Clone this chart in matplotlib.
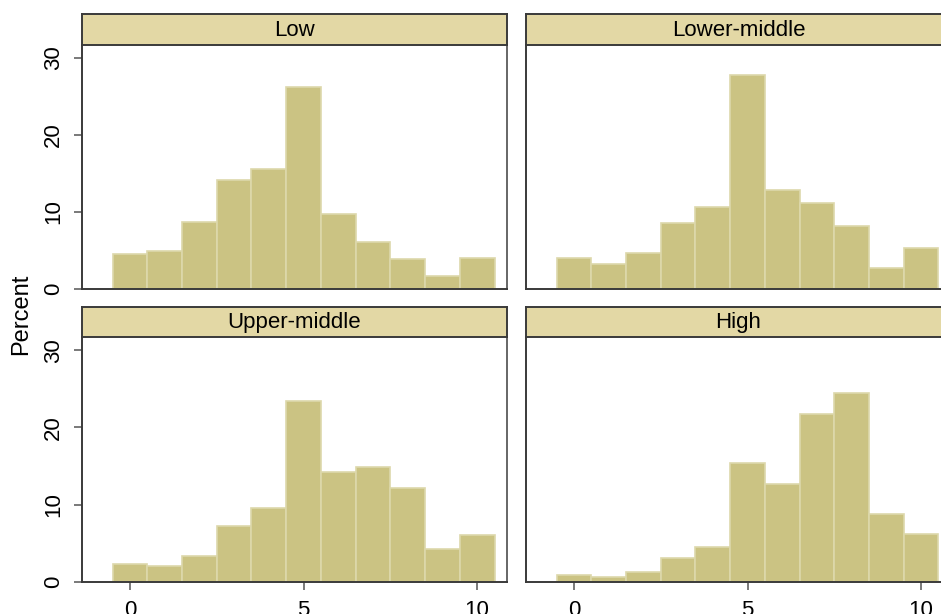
import numpy as np
import matplotlib
matplotlib.use("Agg")
import matplotlib.pyplot as plt

plt.rcParams['font.family'] = ['Liberation Sans', 'DejaVu Sans']

# histogram bins (score 0..10) and percent per income group
scores = np.arange(0, 11)
panel_titles = ["Low", "Lower-middle", "Upper-middle", "High"]
pct_low = [4.5, 5.0, 8.7, 14.1, 15.6, 26.2, 9.8, 6.1, 3.9, 1.7, 4.0]
pct_lower_mid = [4.0, 3.2, 4.7, 8.6, 10.7, 27.8, 12.9, 11.2, 8.2, 2.7, 5.3]
pct_upper_mid = [2.3, 2.1, 3.4, 7.2, 9.6, 23.4, 14.2, 14.9, 12.2, 4.3, 6.1]
pct_high = [0.9, 0.7, 1.3, 3.1, 4.5, 15.4, 12.7, 21.8, 24.4, 8.8, 6.2]
yticks = [0, 10, 20, 30]
xticks = [0, 5, 10]

series = [pct_low, pct_lower_mid, pct_upper_mid, pct_high]

W, H = 941, 614
bar_color = "#cbc383"
bar_edge = "#ddd8ab"
strip_color = "#e3d8a5"
frame_color = "#3a3a3a"

fig = plt.figure(figsize=(W / 100, H / 100), dpi=100)

# panel geometry in pixels: (top of strip, strip bottom / plot top, plot bottom)
lefts = [82, 526]
rows = [(14, 45, 289), (307, 337, 582)]
pw = 425

for i, (title, vals) in enumerate(zip(panel_titles, series)):
    r, c = divmod(i, 2)
    st, pt, pb = rows[r]
    x0 = lefts[c]
    ax = fig.add_axes([x0 / W, 1 - pb / H, pw / W, (pb - pt) / H])
    ax.bar(scores, vals, width=1.0, color=bar_color, edgecolor=bar_edge,
           linewidth=1.2)
    ax.set_xlim(-1.38, 10.86)
    ax.set_ylim(0, 31.7)
    ax.set_yticks(yticks)
    ax.set_xticks(xticks)
    for s in ["left", "bottom", "right"]:
        ax.spines[s].set_color(frame_color)
        ax.spines[s].set_linewidth(1.4)
    ax.spines["right"].set_color("#666666")
    ax.spines["top"].set_visible(False)
    ax.tick_params(axis="both", direction="out", length=6, width=1.1,
                   color="#555555", labelsize=16, pad=7)
    ax.tick_params(axis="y", labelrotation=90)
    for lab in ax.get_yticklabels():
        lab.set_va("center")
    if c == 1:
        ax.tick_params(axis="y", left=False, labelleft=False)
    if r == 0:
        ax.tick_params(axis="x", bottom=False, labelbottom=False)

    # title strip
    sax = fig.add_axes([x0 / W, 1 - pt / H, pw / W, (pt - st) / H])
    sax.set_facecolor(strip_color)
    sax.set_xticks([])
    sax.set_yticks([])
    for s in sax.spines.values():
        s.set_color(frame_color)
        s.set_linewidth(1.4)
    sax.text(0.5, 0.47, title, ha="center", va="center", fontsize=16,
             transform=sax.transAxes)

fig.text(21 / W, 1 - 314 / H, "Percent", rotation=90, ha="center",
         va="center", fontsize=17)

fig.savefig("out.png", dpi=100, facecolor="white")
